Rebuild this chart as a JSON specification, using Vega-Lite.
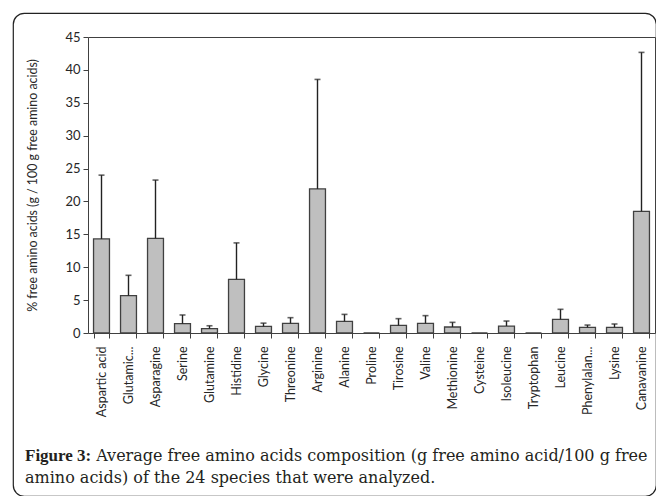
{
  "$schema": "https://vega.github.io/schema/vega-lite/v6.json",
  "width": 643,
  "height": 483,
  "autosize": {"type": "none"},
  "padding": {"left": 13, "top": 13, "right": 0, "bottom": 0},
  "background": "white",
  "config": {
    "view": {"stroke": "#222222", "strokeWidth": 1.2, "cornerRadius": 11},
    "axis": {"labelFont": "Lato", "titleFont": "Lato", "labelColor": "#262626", "titleColor": "#262626", "domainColor": "#404040", "tickColor": "#404040", "grid": false}
  },
  "title": {
    "text": "Figure 3:",
    "subtitle": ["\u200b\u00a0\u00a0\u00a0\u00a0\u00a0\u00a0\u00a0\u00a0\u00a0\u00a0\u00a0\u00a0\u00a0\u00a0Average free amino acids composition (g free amino acid/100 g free", "amino acids) of the 24 species that were analyzed."],
    "orient": "bottom",
    "anchor": "start",
    "frame": "group",
    "offset": -48,
    "dx": 12,
    "font": "Liberation Serif",
    "fontSize": 17,
    "fontWeight": "bold",
    "color": "#231f20",
    "subtitleFont": "DejaVu Serif",
    "subtitleFontSize": 16,
    "subtitleColor": "#231f20",
    "subtitlePadding": -17,
    "subtitleLineHeight": 22
  },
  "data": {
    "values": [
      {"name": "Aspartic acid", "value": 14.3, "upper": 24.0},
      {"name": "Glutamic acid", "value": 5.67, "upper": 8.77},
      {"name": "Asparagine", "value": 14.4, "upper": 23.25},
      {"name": "Serine", "value": 1.42, "upper": 2.74},
      {"name": "Glutamine", "value": 0.66, "upper": 1.1},
      {"name": "Histidine", "value": 8.15, "upper": 13.7},
      {"name": "Glycine", "value": 1.0, "upper": 1.5},
      {"name": "Threonine", "value": 1.47, "upper": 2.33},
      {"name": "Arginine", "value": 21.9, "upper": 38.55},
      {"name": "Alanine", "value": 1.77, "upper": 2.83},
      {"name": "Proline", "value": 0, "upper": null},
      {"name": "Tirosine", "value": 1.16, "upper": 2.18},
      {"name": "Valine", "value": 1.47, "upper": 2.64},
      {"name": "Methionine", "value": 0.91, "upper": 1.62},
      {"name": "Cysteine", "value": 0, "upper": null},
      {"name": "Isoleucine", "value": 1.06, "upper": 1.82},
      {"name": "Tryptophan", "value": 0, "upper": null},
      {"name": "Leucine", "value": 2.08, "upper": 3.6},
      {"name": "Phenylalanine", "value": 0.86, "upper": 1.21},
      {"name": "Lysine", "value": 0.86, "upper": 1.37},
      {"name": "Canavanine", "value": 18.5, "upper": 42.66}
    ]
  },
  "resolve": {"axis": {"x": "independent", "y": "independent"}},
  "layer": [
    {
      "mark": {"type": "bar", "fill": "#bfbfbf", "stroke": "#404040", "strokeWidth": 1.3},
      "encoding": {
        "x": {
          "field": "name", "type": "nominal", "sort": null,
          "scale": {"type": "band", "range": [75, 642], "paddingInner": 0.41, "paddingOuter": 0.205},
          "axis": {
            "orient": "bottom", "offset": -163, "title": null, "labelAngle": -90,
            "labelFontSize": 12.5, "labelPadding": 8, "tickSize": 5, "tickBand": "extent",
            "labelExpr": "datum.value == 'Glutamic acid' ? 'Glutamic...' : datum.value == 'Phenylalanine' ? 'Phenylalan...' : datum.value"
          }
        },
        "y": {
          "field": "value", "type": "quantitative",
          "scale": {"domain": [0, 45], "range": [320, 24], "nice": false, "zero": true},
          "axis": {
            "orient": "left", "offset": -75, "values": [0, 5, 10, 15, 20, 25, 30, 35, 40, 45],
            "title": "% free amino acids  (g / 100 g free amino acids)",
            "titleFontSize": 12.4, "titleFontWeight": "normal", "titlePadding": 25,
            "labelFontSize": 13, "labelPadding": 3, "tickSize": 5
          }
        }
      }
    },
    {
      "transform": [{"filter": "datum.upper != null"}],
      "mark": {"type": "rule", "color": "#222222", "strokeWidth": 1.4},
      "encoding": {
        "x": {"field": "name", "type": "nominal", "sort": null, "axis": null},
        "y": {"field": "value", "type": "quantitative", "axis": null},
        "y2": {"field": "upper"}
      }
    },
    {
      "transform": [{"filter": "datum.upper != null"}],
      "mark": {"type": "tick", "color": "#222222", "thickness": 1.6, "size": 6, "orient": "horizontal"},
      "encoding": {
        "x": {"field": "name", "type": "nominal", "sort": null, "axis": null},
        "y": {"field": "upper", "type": "quantitative", "axis": null}
      }
    },
    {
      "mark": {"type": "bar", "opacity": 0},
      "encoding": {
        "x": {"field": "name", "type": "nominal", "sort": null,
          "axis": {"orient": "top", "offset": -24, "labels": false, "ticks": false, "title": null, "domainColor": "#404040"}},
        "y": {"field": "value", "type": "quantitative",
          "axis": {"orient": "right", "offset": -1, "labels": false, "ticks": false, "title": null, "domainColor": "#404040"}}
      }
    }
  ]
}
